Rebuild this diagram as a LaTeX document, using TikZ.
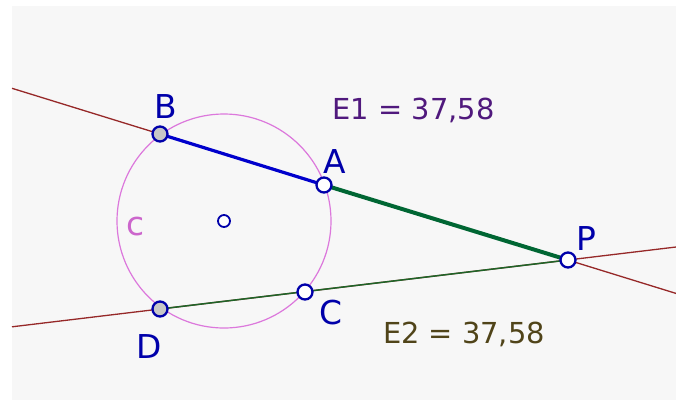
\documentclass[tikz,border=0pt]{standalone}
\usepackage{fontspec}
\setmainfont{DejaVu Sans}
\usepackage{xcolor}
\definecolor{bggray}{RGB}{247,247,247}
\definecolor{linered}{RGB}{150,40,40}
\definecolor{ptblue}{RGB}{0,0,170}
\definecolor{segblue}{RGB}{0,0,204}
\definecolor{seggreen}{RGB}{0,102,51}
\definecolor{thingreen}{RGB}{30,100,40}
\definecolor{circviolet}{RGB}{220,120,220}
\definecolor{labviolet}{RGB}{204,102,204}
\definecolor{eonecol}{RGB}{80,25,125}
\definecolor{etwocol}{RGB}{80,68,25}

\begin{document}
\begin{tikzpicture}[x=1bp, y=-1bp,
  pt/.style={circle, draw=ptblue, line width=2.3bp, fill=white, inner sep=0pt, minimum size=15bp},
  ptfix/.style={pt, fill=black!22},
  lbl/.style={anchor=base, inner sep=0pt, text=ptblue, font=\fontsize{33}{36}\selectfont},
  val/.style={anchor=base, inner sep=0pt, font=\fontsize{29}{32}\selectfont}]
\useasboundingbox (0,0) rectangle (676,400);
\fill[white] (0,0) rectangle (676,400);
\fill[bggray] (12,6) rectangle (676,400);

% Circle c
\draw[circviolet, line width=1.2bp] (224,221) circle[radius=107];

% Point positions and free ends of the two lines
\coordinate (O) at (224,221);
\coordinate (B) at (160,134);
\coordinate (A) at (324,185);
\coordinate (P) at (568,260);
\coordinate (C) at (305,292);
\coordinate (D) at (160,309);
\coordinate (L1) at (12,88.3);
\coordinate (R1) at (676,293.4);
\coordinate (L2) at (12,326.8);
\coordinate (R2) at (676,247);

% Lines through P
\draw[linered, line width=1.3bp] (L1) -- (R1);
\draw[linered, line width=1.3bp] (L2) -- (R2);
\draw[thingreen, line width=1.5bp] (D) -- (P);
\draw[segblue, line width=3.2bp] (B) -- (A);
\draw[seggreen, line width=4bp] (A) -- (P);

% Points
\node[pt, minimum size=12bp, line width=1.8bp] (ptO) at (O) {};
\node[ptfix] (ptB) at (B) {};
\node[pt] (ptA) at (A) {};
\node[pt] (ptP) at (P) {};
\node[pt] (ptC) at (C) {};
\node[ptfix] (ptD) at (D) {};

% Labels
\node[lbl] (labB) at (166,118) {B};
\node[lbl] (labA) at (335,173) {A};
\node[lbl] (labP) at (586,250) {P};
\node[lbl] (labC) at (330.5,324) {C};
\node[lbl] (labD) at (149,358) {D};
\node[lbl, text=labviolet] (labc) at (136,235) {c};

% Values
\node[val, text=eonecol] (E1) at (413.5,119.5) {E1 = 37,58};
\node[val, text=etwocol] (E2) at (464,343.5) {E2 = 37,58};
\end{tikzpicture}
\end{document}
